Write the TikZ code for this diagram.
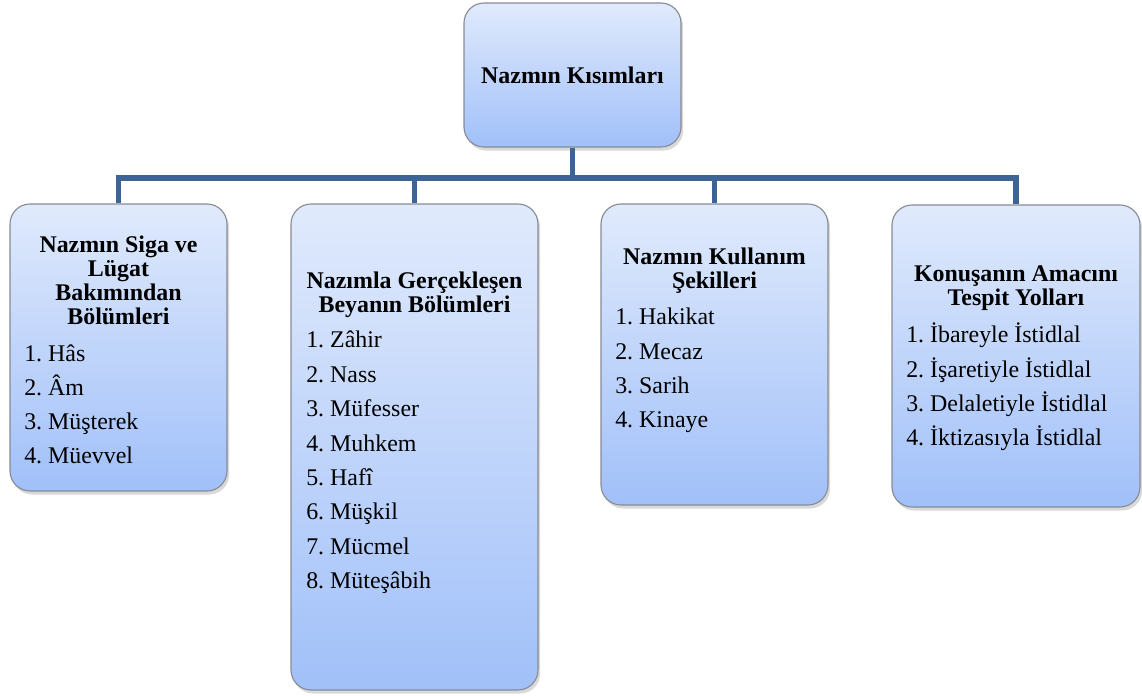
\documentclass[tikz,border=0pt]{standalone}
\usepackage{fontspec}
\setmainfont{Liberation Serif}
\usetikzlibrary{positioning,shadows}
\definecolor{boxtop}{HTML}{E0EAFC}
\definecolor{boxbot}{HTML}{A1C0F9}
\definecolor{boxline}{HTML}{878B93}
\definecolor{linkblue}{HTML}{3C6495}

\tikzset{
  part/.style={draw=boxline,line width=0.8pt,rounded corners=0.5cm,top color=boxtop,bottom color=boxbot,
    drop shadow={shadow xshift=1.5pt,shadow yshift=-2.5pt,opacity=0.3}},
  head/.style={font=\fontsize{17pt}{17pt}\selectfont\bfseries,align=center,anchor=north,inner sep=0pt},
  item/.style={font=\fontsize{17pt}{20pt}\selectfont,anchor=base west,inner sep=0pt},
  link/.style={linkblue,line width=3.6pt}
}

\begin{document}
\frenchspacing
\begin{tikzpicture}
        \useasboundingbox (0,0) rectangle (28.55,-17.375);
        % boxes
        \node[part,minimum width=5.425cm,minimum height=3.6cm,font=\fontsize{17pt}{17pt}\selectfont\bfseries] (root) at (14.3125,-1.875) {Nazmın Kısımları};
        \foreach \nm/\x/\y/\w/\h in {siga/2.9625/-8.6875/5.425/7.175,beyan/10.3625/-11.175/6.175/12.15,kullanim/17.8625/-8.8625/5.675/7.525,amac/25.4/-8.9/6.2/7.55}{
          \node[part,minimum width=\w cm,minimum height=\h cm] (\nm) at (\x,\y) {};}
        % connectors
        \coordinate (bus) at (0,-4.45);
        \foreach \nm in {siga,beyan,kullanim,amac}
          \draw[link] (root.south) |- (bus -| \nm.north) -- (\nm.north);
        % headings
        \node[head] (siga-h) at (siga.center |- 0,-5.8875) {Nazmın Siga ve\\Lügat\\Bakımından\\Bölümleri};
        \node[head] (beyan-h) at (beyan.center |- 0,-6.7875) {Nazımla Gerçekleşen\\Beyanın Bölümleri};
        \node[head] (kullanim-h) at (kullanim.center |- 0,-6.1875) {Nazmın Kullanım\\Şekilleri};
        \node[head] (amac-h) at (amac.center |- 0,-6.6375) {Konuşanın Amacını\\Tespit Yolları};
        % lists
        \foreach \t [count=\i] in {Hâs,Âm,Müşterek,Müevvel}
          \node[item] (siga-\i) at (0.6,{-8.19-0.85*\i}) {\i. \t};
        \foreach \t [count=\i] in {Zâhir,Nass,Müfesser,Muhkem,Hafî,Müşkil,Mücmel,Müteşâbih}
          \node[item] (beyan-\i) at (7.65,{-7.835-0.86*\i}) {\i. \t};
        \foreach \t [count=\i] in {Hakikat,Mecaz,Sarih,Kinaye}
          \node[item] (kullanim-\i) at (15.375,{-7.2625-0.8575*\i}) {\i. \t};
        \foreach \t [count=\i] in {İbareyle İstidlal,İşaretiyle İstidlal,Delaletiyle İstidlal,İktizasıyla İstidlal}
          \node[item] (amac-\i) at (22.65,{-7.7125-0.8575*\i}) {\i. \t};
      \end{tikzpicture}
\end{document}
